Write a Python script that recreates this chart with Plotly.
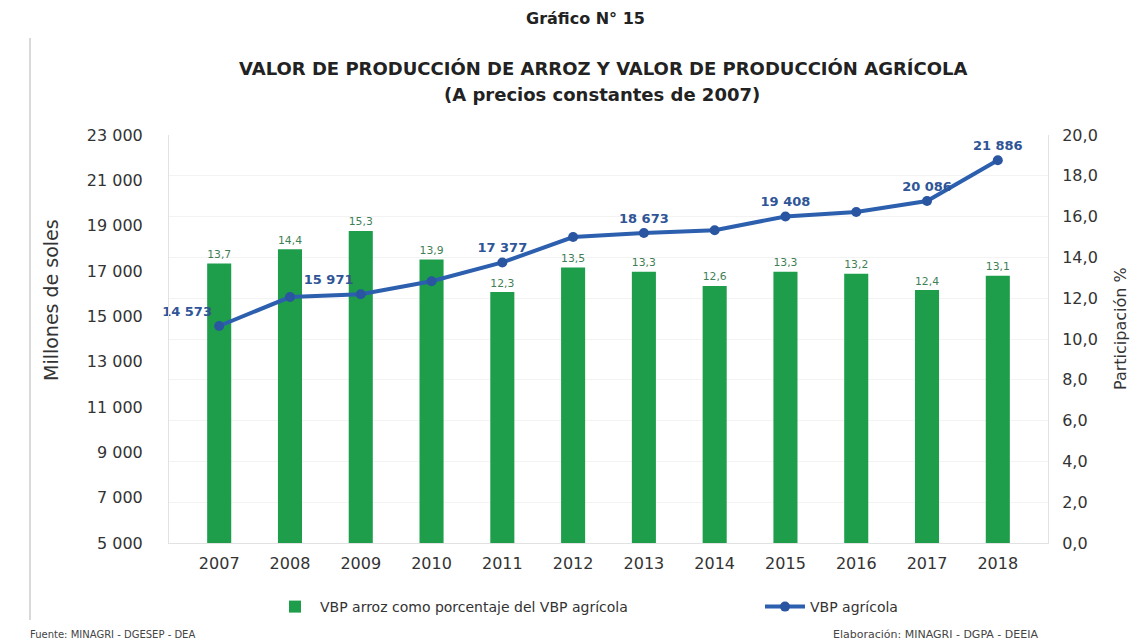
import plotly.graph_objects as go

# Data
years = ["2007", "2008", "2009", "2010", "2011", "2012",
         "2013", "2014", "2015", "2016", "2017", "2018"]
pct_arroz = [13.7, 14.4, 15.3, 13.9, 12.3, 13.5, 13.3, 12.6, 13.3, 13.2, 12.4, 13.1]
vbp_agricola = [14573, 15850, 15971, 16550, 17377, 18500,
                18673, 18800, 19408, 19600, 20086, 21886]
# only some points carry a value label in the original
labelled = [True, False, True, False, True, False, True, False, True, False, True, True]
label_pos = ["top left", "top center", "top left", "top center", "top center", "top center",
             "top center", "top center", "top center", "top center", "top center", "top center"]

left_ticks = list(range(5000, 23001, 2000))
right_ticks = [i * 2.0 for i in range(11)]

GREEN = "#1e9e4a"
BLUE = "#2d5faf"
FONT = "'DejaVu Sans', sans-serif"
TXT = "#333333"

# plot area in pixels (width 1139, height 640)
L, R, T, B = 161, 99, 127, 105
plot_w = 1139 - L - R
plot_h = 640 - T - B


def px_x(px):
    return (px - L) / plot_w


def px_y(py):
    return (640 - B - py) / plot_h


line_text = [f"{v:,}".replace(",", " ") if show else "" for v, show in zip(vbp_agricola, labelled)]

fig = go.Figure()

# bars on the primary axis (drawn first), line on the overlaying axis so it sits on top
fig.add_trace(go.Bar(
    x=years, y=pct_arroz, yaxis="y",
    name="VBP arroz como porcentaje del VBP agrícola",
    marker=dict(color=GREEN, line=dict(width=0)),
    width=0.34,
    texttemplate="%{y:.1f}", textposition="outside",
    textfont=dict(color="#3f7f55", size=13, family=FONT),
    cliponaxis=False,
    legend="legend",
))

fig.add_trace(go.Scatter(
    x=years, y=vbp_agricola, yaxis="y2",
    name="VBP agrícola",
    mode="lines+markers+text",
    line=dict(color=BLUE, width=4),
    marker=dict(color="#2a55a0", size=10),
    text=line_text, textposition=label_pos,
    texttemplate="<b>%{text}</b>",
    textfont=dict(color="#2f5597", size=13, family=FONT),
    cliponaxis=False,
    legend="legend2",
))

fig.update_layout(
    width=1139, height=640,
    paper_bgcolor="white", plot_bgcolor="white",
    font=dict(family=FONT, color=TXT, size=13),
    separators=", ",
    margin=dict(l=L, r=R, t=T, b=B),
    showlegend=True,
    legend=dict(orientation="h", x=px_x(262), xanchor="left", y=px_y(599), yanchor="middle",
                font=dict(size=14, color=TXT), itemwidth=40),
    legend2=dict(orientation="h", x=px_x(752), xanchor="left", y=px_y(599), yanchor="middle",
                 font=dict(size=14, color=TXT), itemwidth=40),
    xaxis=dict(
        type="category", showgrid=False, showline=True, linecolor="#e2e2e2",
        ticks="", ticklabelstandoff=6, tickfont=dict(size=16, color=TXT),
        zeroline=False,
    ),
    yaxis=dict(
        range=[0, 20], tickvals=right_ticks, tickformat=".1f",
        side="right", showgrid=True, gridcolor="#f3f3f3", zeroline=False,
        showline=True, linecolor="#e2e2e2",
        ticks="", ticklabelstandoff=10, tickfont=dict(size=16, color=TXT),
    ),
    yaxis2=dict(
        range=[5000, 23000], tickvals=left_ticks, tickformat=",d",
        overlaying="y", side="left", showgrid=False, zeroline=False,
        showline=True, linecolor="#e2e2e2",
        ticks="", ticklabelstandoff=22, tickfont=dict(size=16, color=TXT),
    ),
)

fig.add_annotation(text="<b>Gráfico N° 15</b>", x=px_x(577), y=px_y(11), xref="paper", yref="paper",
                   showarrow=False, font=dict(size=16, color="#222222"), xanchor="center", yanchor="middle")
fig.add_annotation(text="<b>VALOR DE PRODUCCIÓN DE ARROZ Y VALOR DE PRODUCCIÓN AGRÍCOLA</b>",
                   x=px_x(595), y=px_y(61), xref="paper", yref="paper", showarrow=False,
                   font=dict(size=18, color="#222222"), xanchor="center", yanchor="middle")
fig.add_annotation(text="<b>(A precios constantes de 2007)</b>",
                   x=px_x(594), y=px_y(87), xref="paper", yref="paper", showarrow=False,
                   font=dict(size=18, color="#222222"), xanchor="center", yanchor="middle")
fig.add_annotation(text="Millones de soles", textangle=-90,
                   x=px_x(43), y=px_y(292), xref="paper", yref="paper", showarrow=False,
                   font=dict(size=19, color=TXT), xanchor="center", yanchor="middle")
fig.add_annotation(text="Participación %", textangle=-90,
                   x=px_x(1112), y=px_y(321), xref="paper", yref="paper", showarrow=False,
                   font=dict(size=16, color=TXT), xanchor="center", yanchor="middle")
fig.add_annotation(text="Fuente: MINAGRI - DGESEP - DEA",
                   x=px_x(20), y=px_y(626), xref="paper", yref="paper", showarrow=False,
                   font=dict(size=10, color="#444444"), xanchor="left", yanchor="middle")
fig.add_annotation(text="Elaboración: MINAGRI - DGPA - DEEIA",
                   x=px_x(1032), y=px_y(626), xref="paper", yref="paper", showarrow=False,
                   font=dict(size=11, color="#444444"), xanchor="right", yanchor="middle")

# faint scan frame on the left
fig.add_shape(type="line", xref="paper", yref="paper",
              x0=px_x(22), x1=px_x(22), y0=px_y(30), y1=px_y(612),
              line=dict(color="#cccccc", width=1.5))

fig.write_html("out.html")
